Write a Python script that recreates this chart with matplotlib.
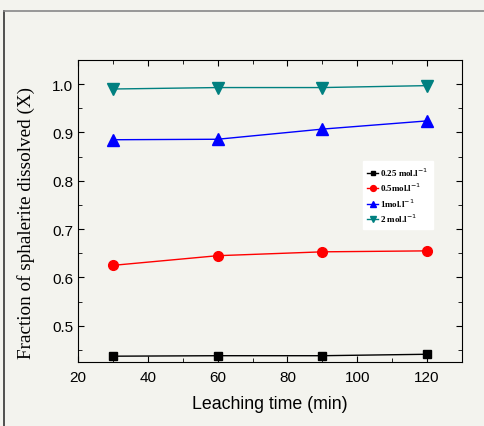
import matplotlib
matplotlib.use('Agg')
import matplotlib.pyplot as plt
from matplotlib.ticker import MultipleLocator
from matplotlib.lines import Line2D

time = [30, 60, 90, 120]
c025 = [0.437, 0.438, 0.438, 0.441]
c05 = [0.625, 0.645, 0.653, 0.655]
c1 = [0.885, 0.886, 0.907, 0.924]
c2 = [0.990, 0.993, 0.993, 0.997]

labels = ['0.25 mol.l$^{-1}$', '0.5mol.l$^{-1}$', '1mol.l$^{-1}$', '2 mol.l$^{-1}$']
colors = ['black', 'red', 'blue', '#008080']
markers = ['s', 'o', '^', 'v']
msizes = [6, 7, 8, 8]

bg = '#f3f3ee'
fig = plt.figure(figsize=(4.85, 4.27), dpi=100, facecolor=bg)
ax = fig.add_axes([0.1608, 0.1499, 0.7918, 0.7072])
ax.set_facecolor(bg)

# outer frame
fig.add_artist(Line2D([4/485, 4/485], [0, 1 - 12/427], transform=fig.transFigure, color='#333333', lw=1.2))
fig.add_artist(Line2D([4/485, 1], [1 - 12/427, 1 - 12/427], transform=fig.transFigure, color='#888888', lw=1.2))

for ys, c, m, ms, lab in zip([c025, c05, c1, c2], colors, markers, msizes, labels):
    ax.plot(time, ys, color=c, marker=m, markersize=ms, lw=1.0, label=lab)

ax.set_xlim(20, 130)
ax.set_ylim(0.425, 1.05)
ax.xaxis.set_major_locator(MultipleLocator(20))
ax.xaxis.set_minor_locator(MultipleLocator(10))
ax.yaxis.set_major_locator(MultipleLocator(0.1))
ax.yaxis.set_minor_locator(MultipleLocator(0.05))
ax.tick_params(which='both', direction='in', top=True, right=True, labelsize=11)
ax.tick_params(axis='x', pad=6)
ax.tick_params(which='major', length=4)
ax.tick_params(which='minor', length=3)
ax.set_yticks([0.5, 0.6, 0.7, 0.8, 0.9, 1.0])
ax.set_yticklabels(['0.5', '0.6', '0.7', '0.8', '0.9', '1.0'], family='Liberation Sans')
for t in ax.get_xticklabels():
    t.set_family('Liberation Sans')

ax.set_xlabel('Leaching time (min)', family='Liberation Sans', fontsize=12.8, labelpad=8)
ax.set_ylabel('Fraction of sphalerite dissolved (X)', family='Liberation Serif', fontsize=13.8)
ax.yaxis.set_label_coords(-0.112, 0.464)

leg = ax.legend(loc='upper left', bbox_to_anchor=(0.742, 0.666), frameon=True, fancybox=False,
                edgecolor='white', facecolor='white', framealpha=1,
                prop={'family': 'Liberation Serif', 'weight': 'bold', 'size': 6.5},
                handlelength=1.2, markerscale=0.6, labelspacing=0.35, borderpad=0.5,
                handletextpad=0.2, borderaxespad=0)

fig.savefig('out.png', dpi=100, facecolor=bg)
